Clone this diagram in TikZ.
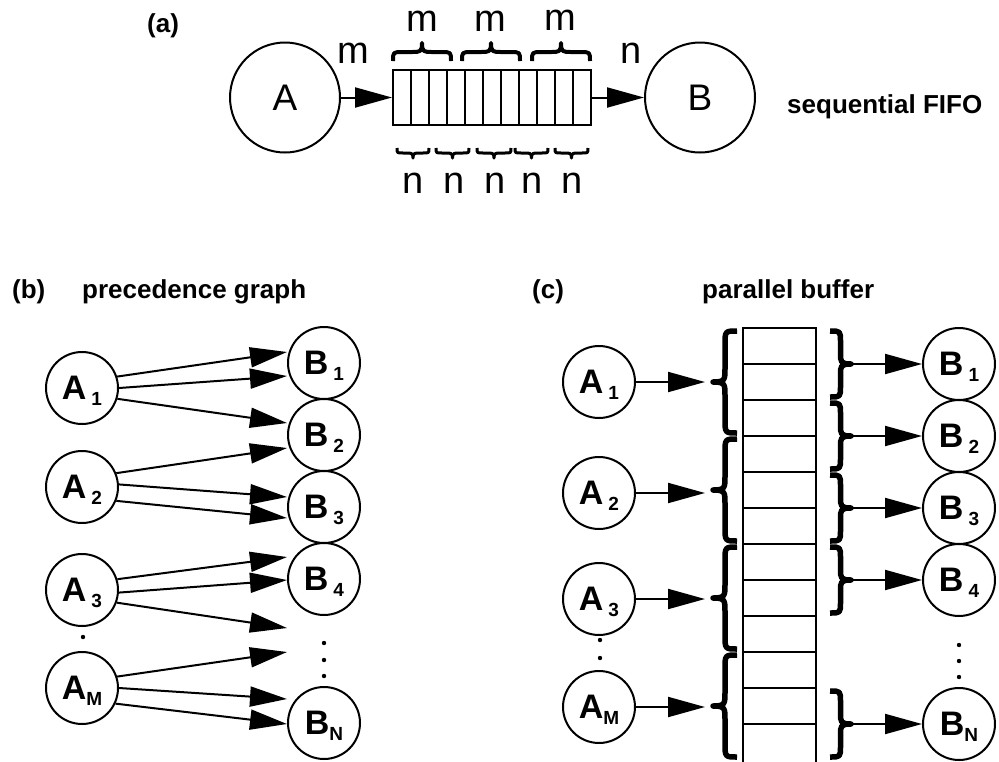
\documentclass[tikz,border=0pt]{standalone}
\usepackage{fontspec}
\setmainfont{Liberation Sans}
\usetikzlibrary{arrows.meta,calc}
% subscript set lower and to the right of a node letter
\newcommand\nsub[2]{\hspace{#1}\raisebox{-6pt}[0pt][0pt]{\fontsize{19}{19}\selectfont #2}}

\begin{document}
\begin{tikzpicture}[x=1pt,y=-1pt,
  bignode/.style={circle,draw,line width=2pt,minimum size=110pt,inner sep=0pt,
    font=\fontsize{37}{42}\selectfont},
  smallnode/.style={circle,draw,line width=2pt,minimum size=72pt,inner sep=0pt,
    font=\fontsize{34}{38}\selectfont\bfseries},
  arr/.style={line width=2pt,-{Triangle[length=37pt,width=20pt]}},
  lbl/.style={inner sep=0pt,font=\fontsize{38}{42}\selectfont},
  heading/.style={inner sep=0pt,anchor=base west,font=\fontsize{26}{30}\selectfont\bfseries},
  bracepen/.style={line join=round,line cap=butt},
  dot/.style={fill=black}
]
\useasboundingbox (0,0) rectangle (999,761);

% ---------------- (a) sequential FIFO ----------------
\node[heading] (ha) at (147,32) {(a)};
\node[bignode] (A) at (285,97.5) {A};
\node[bignode] (B) at (700,97.5) {B};
\node[draw,line width=2pt,minimum width=198pt,minimum height=55pt,inner sep=0pt] (fifo) at (492,97.5) {};
\foreach \i in {1,...,10}
  \draw[line width=2pt] (393+18*\i,70) -- (393+18*\i,125);
\draw[arr] (A) -- (fifo);
\draw[arr] (fifo) -- (B);
\node[lbl] (mleft) at (353,53) {m};
\node[lbl] (nright) at (631,53) {n};
% horizontal braces: base y, tip y, left x, right x, curl, pen width
\foreach \b/\t/\xa/\xb/\q/\w in {61/43/393/451/10/4, 61/43/462/520/10/4, 61/43/532/590/10/4,
    148/158/397/429/6/3, 148/158/436/469/6/3, 148/158/477/511/6/3, 148/158/515/548/6/3, 148/158/555/588/6/3}{
  \pgfmathsetmacro\s{(\b+\t)/2}
  \pgfmathsetmacro\m{(\xa+\xb)/2}
  \draw[bracepen,line width=\w pt] (\xa,\b) .. controls (\xa,\s) .. (\xa+\q,\s) -- (\m-\q,\s)
    .. controls (\m-2,\s) and (\m,\s) .. (\m,\t) .. controls (\m,\s) and (\m+2,\s) .. (\m+\q,\s) -- (\xb-\q,\s)
    .. controls (\xb,\s) .. (\xb,\b);
}
\node[lbl] (m1) at (422,21) {m};
\node[lbl] (m2) at (490,21) {m};
\node[lbl] (m3) at (560,20) {m};
\foreach \x [count=\k] in {413,454,495,532,572}
  \node[lbl] (n\k) at (\x,183) {n};
\node[heading] (seq) at (787,113) {sequential FIFO};

% ---------------- (b) precedence graph ----------------
\node[heading] (hb) at (12,298) {(b)};
\node[heading] (hbt) at (82,298) {precedence graph};
\node[smallnode] (bA1) at (82,388) {A\nsub{5pt}{1}};
\node[smallnode] (bA2) at (82,487) {A\nsub{5pt}{2}};
\node[smallnode] (bA3) at (82,590) {A\nsub{5pt}{3}};
\node[smallnode] (bAM) at (82,688) {A\nsub{0pt}{M}};
\node[smallnode] (bB1) at (324,363) {B\nsub{5pt}{1}};
\node[smallnode] (bB2) at (324,435) {B\nsub{5pt}{2}};
\node[smallnode] (bB3) at (324,507) {B\nsub{5pt}{3}};
\node[smallnode] (bB4) at (324,579) {B\nsub{5pt}{4}};
\node[smallnode] (bBN) at (324,723) {B\nsub{0pt}{N}};
\coordinate (g1) at (287,628);
\coordinate (g2) at (287,652);
\draw[arr] (bA1.18) -- ($(bB1)+(-37,-11)$);
\draw[arr] (bA1.0) -- ($(bB1)+(-37,13)$);
\draw[arr] (bA1.-17) -- ($(bB2)+(-37,-12)$);
\draw[arr] (bA2.22) -- ($(bB2)+(-37,13)$);
\draw[arr] (bA2.4) -- ($(bB3)+(-37,-10)$);
\draw[arr] (bA2.-22) -- ($(bB3)+(-37,11)$);
\draw[arr] (bA3.17) -- ($(bB4)+(-37,-22)$);
\draw[arr] (bA3.-4) -- ($(bB4)+(-37,1)$);
\draw[arr] (bA3.-20) -- (g1);
\draw[arr] (bAM.18) -- (g2);
\draw[arr] (bAM.0) -- ($(bBN)+(-37,-24)$);
\draw[arr] (bAM.-25) -- ($(bBN)+(-37,1)$);
\fill[dot] (83,637) circle (2.2);
\foreach \y in {643,660,676}
  \fill[dot] (324,\y) circle (2.2);

% ---------------- (c) parallel buffer ----------------
\node[heading] (hc) at (532,298) {(c)};
\node[heading] (hct) at (702,298) {parallel buffer};
\draw[line width=1.6pt] (743,328) rectangle (816,763);
\foreach \y in {364,400,...,724}
  \draw[line width=1.6pt] (743,\y) -- (816,\y);
\node[smallnode] (cA1) at (599,382) {A\nsub{5pt}{1}};
\node[smallnode] (cA2) at (599,493) {A\nsub{5pt}{2}};
\node[smallnode] (cA3) at (599,599) {A\nsub{5pt}{3}};
\node[smallnode] (cAM) at (599,707) {A\nsub{0pt}{M}};
\node[smallnode] (cB1) at (959,364) {B\nsub{5pt}{1}};
\node[smallnode] (cB2) at (959,436) {B\nsub{5pt}{2}};
\node[smallnode] (cB3) at (959,508) {B\nsub{5pt}{3}};
\node[smallnode] (cB4) at (959,580) {B\nsub{5pt}{4}};
\node[smallnode] (cBN) at (959,724) {B\nsub{0pt}{N}};
% vertical braces: base x, tip x, top y, bottom y, curl
% write side: three slots per producer; read side: two slots per consumer
\foreach \b/\t/\ya/\yb/\q in {737/713/331/433/14, 737/713/439/541/14, 737/713/547/649/14, 737/713/655/757/14,
    830/851/331/397/11, 830/851/403/469/11, 830/851/475/541/11, 830/851/547/613/11, 830/851/691/757/11}{
  \pgfmathsetmacro\s{(\b+\t)/2}
  \pgfmathsetmacro\m{(\ya+\yb)/2}
  \draw[bracepen,line width=5.5pt] (\b,\ya) .. controls (\s,\ya) .. (\s,\ya+\q) -- (\s,\m-\q)
    .. controls (\s,\m-2) and (\s,\m) .. (\t,\m) .. controls (\s,\m) and (\s,\m+2) .. (\s,\m+\q) -- (\s,\yb-\q)
    .. controls (\s,\yb) .. (\b,\yb);
}
\coordinate (l1) at (705,382);
\coordinate (l2) at (705,493);
\coordinate (l3) at (705,599);
\coordinate (lM) at (705,707);
\draw[arr] (cA1) -- (l1);
\draw[arr] (cA2) -- (l2);
\draw[arr] (cA3) -- (l3);
\draw[arr] (cAM) -- (lM);
\foreach \c/\k in {364/1,436/2,508/3,580/4,724/N}{
  \coordinate (r\k) at (852,\c);
  \draw[arr] (r\k) -- (cB\k);
}
\foreach \y in {640,658}
  \fill[dot] (600,\y) circle (2.2);
\foreach \y in {645,661,677}
  \fill[dot] (959,\y) circle (2.2);
\end{tikzpicture}
\end{document}
